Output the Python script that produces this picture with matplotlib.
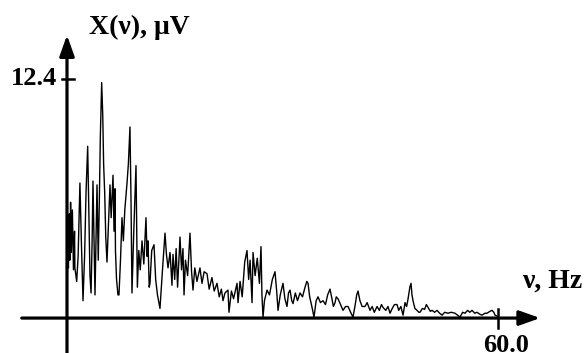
import numpy as np
import matplotlib
matplotlib.use("Agg")
import matplotlib.pyplot as plt

# spectrum: frequency (Hz) and amplitude (uV)
FREQ = [0.0, 0.1, 0.2, 0.3, 0.4, 0.5, 0.6, 0.75, 0.9, 1.05, 1.1, 1.35, 1.55, 1.8,
        2.0, 2.23, 2.45, 2.65, 2.88, 3.05, 3.2, 3.35, 3.5, 3.62, 3.75, 3.9, 4.05,
        4.18, 4.35, 4.5, 4.65, 4.83, 4.98, 5.1, 5.25, 5.4, 5.57, 5.75, 5.99, 6.15,
        6.41, 6.55, 6.69, 6.75, 6.9, 7.1, 7.24, 7.45, 7.66, 7.85, 8.05, 8.36, 8.55,
        8.77, 8.92, 9.05, 9.3, 9.61, 9.7, 9.8, 10.0, 10.2, 10.45, 10.7, 11.0, 11.15,
        11.28, 11.45, 11.56, 11.8, 12.12, 12.35, 12.6, 12.95, 13.3, 13.65, 13.85,
        14.07, 14.35, 14.62, 14.76, 15.0, 15.2, 15.4, 15.74, 15.95, 16.15, 16.3,
        16.5, 16.8, 17.13, 17.35, 17.55, 17.8, 18.1, 18.52, 18.8, 19.1, 19.5, 19.8,
        20.19, 20.5, 20.89, 21.2, 21.5, 21.73, 22.0, 22.42, 22.56, 22.9, 23.2,
        23.68, 23.82, 24.1, 24.4, 24.75, 25.07, 25.3, 25.5, 25.77, 25.91, 26.2,
        26.5, 26.8, 27.02, 27.15, 27.3, 27.5, 27.86, 28.2, 28.6, 28.97, 29.2, 29.39,
        29.7, 30.08, 30.35, 30.64, 30.85, 31.06, 31.3, 31.48, 31.8, 32.1, 32.45,
        32.8, 33.15, 33.4, 33.57, 33.8, 34.1, 34.4, 34.7, 34.96, 35.3, 35.65, 36.0,
        36.3, 36.63, 36.9, 37.1, 37.33, 37.5, 37.74, 38.1, 38.44, 38.8, 39.14, 39.5,
        39.83, 40.1, 40.35, 40.53, 40.8, 41.1, 41.5, 41.8, 42.2, 42.5, 42.8, 43.18,
        43.5, 43.8, 44.01, 44.4, 44.7, 44.99, 45.3, 45.6, 45.96, 46.2, 46.5, 46.8,
        47.08, 47.3, 47.5, 47.75, 47.91, 48.05, 48.19, 48.45, 48.75, 49.0, 49.16,
        49.5, 49.8, 50.05, 50.28, 50.6, 50.84, 51.2, 51.53, 51.9, 52.23, 52.6,
        53.06, 53.5, 54.04, 54.4, 54.74, 55.1, 55.43, 55.8, 56.1, 56.41, 56.8,
        57.1, 57.5, 57.8, 58.2, 58.5, 58.9, 59.19, 59.45, 59.61, 59.89]
AMP = [1.0, 3.6, 2.6, 5.4, 3.0, 6.0, 3.4, 5.6, 2.5, 4.5, 2.6, 1.9, 3.2, 7.0,
       4.0, 0.9, 3.2, 6.5, 8.9, 5.5, 2.2, 1.3, 4.0, 7.1, 4.5, 1.2, 4.3,
       6.9, 3.0, 6.0, 9.5, 12.2, 10.5, 8.0, 6.5, 4.2, 2.9, 4.6, 6.9, 5.2,
       7.4, 4.5, 6.7, 3.5, 2.0, 1.2, 1.2, 3.0, 5.2, 4.0, 5.6, 7.0, 8.0,
       9.9, 6.0, 1.3, 4.5, 7.9, 5.0, 1.6, 3.5, 2.5, 4.0, 2.8, 5.2, 3.2,
       4.0, 1.6, 1.8, 3.5, 3.8, 2.0, 1.2, 0.5, 2.5, 4.4, 3.3,
       2.6, 3.4, 1.7, 3.3, 2.0, 3.6, 1.6, 4.2, 2.5, 3.6, 1.2,
       3.0, 2.2, 4.4, 2.4, 1.45, 2.6, 1.9, 2.6, 1.8, 2.4, 2.3, 1.5,
       2.1, 1.4, 1.8, 1.1, 1.5, 0.9, 1.3, 1.45, 0.3, 1.4, 1.0,
       1.8, 0.8, 1.9, 1.1, 2.9, 3.5, 2.0, 3.0, 0.8, 3.4, 2.2,
       3.1, 1.8, 3.7, 1.2, 0.05, 0.9, 1.45, 1.2, 2.0, 2.4, 1.4, 0.4,
       1.2, 1.8, 1.0, 0.6, 1.3, 1.45, 0.9, 0.75, 1.3, 0.9, 1.3,
       1.1, 1.6, 1.9, 1.8, 1.1, 0.6, 0.05, 0.9, 1.1, 0.8, 0.9, 0.7,
       1.2, 1.5, 1.0, 0.6, 0.8, 1.1, 1.0, 0.7, 0.4, 0.6, 0.6, 0.3,
       0.05, 0.6, 1.2, 1.4, 0.9, 0.6, 0.6, 0.8, 0.4, 0.6, 0.3, 0.6,
       0.4, 0.7, 0.55, 0.4, 0.6, 0.25, 0.5, 0.7, 0.7, 0.4, 0.6, 0.15,
       0.8, 0.6, 1.0, 1.6, 1.8, 1.2, 0.9, 0.5, 0.4, 0.3, 0.3,
       0.5, 0.45, 0.7, 0.55, 0.35, 0.4, 0.3, 0.4, 0.25, 0.15, 0.3,
       0.25, 0.3, 0.25, 0.15, 0.05, 0.3, 0.25, 0.4, 0.3, 0.4, 0.25,
       0.3, 0.2, 0.15, 0.25, 0.25, 0.35, 0.4, 0.3, 0.15, 0.1]

Y_TICK = 12.4
X_TICK = 60.0

plt.rcParams["font.family"] = ["Liberation Serif", "DejaVu Serif"]

fig = plt.figure(figsize=(5.88, 3.53), dpi=100)
ax = fig.add_axes([0, 0, 1, 1])
ax.set_xlim(-9.33, 72.56)
ax.set_ylim(-1.81, 16.48)
ax.axis("off")

ax.plot(FREQ, AMP, color="black", lw=1.0, zorder=3)

# hand-drawn style axes with arrows
arrow = dict(arrowstyle="-|>,head_length=0.9,head_width=0.32", lw=2.3,
             color="black", mutation_scale=14, shrinkA=0, shrinkB=0)
ax.annotate("", xy=(65.9, 0), xytext=(-6.3, 0), arrowprops=arrow, zorder=4)
ax.annotate("", xy=(0, 14.66), xytext=(0, -1.81), arrowprops=arrow, zorder=4)

# ticks
ax.plot([-0.7, 1.0], [Y_TICK, Y_TICK], color="black", lw=1.8)
ax.plot([X_TICK, X_TICK], [-0.5, 0.45], color="black", lw=1.8)

bold = dict(fontweight="bold", color="black")
ax.text(-1.4, Y_TICK, f"{Y_TICK:.1f}", ha="right", va="center", fontsize=19, **bold)
ax.text(61.2, -1.74, f"{X_TICK:.1f}", ha="center", va="baseline", fontsize=19, **bold)
ax.text(3.0, 14.7, "X(\u03bd), \u03bcV", ha="left", va="baseline", fontsize=20, **bold)
ax.text(63.4, 1.55, "\u03bd, Hz", ha="left", va="baseline", fontsize=20, **bold)

fig.savefig("out.png", dpi=100)
